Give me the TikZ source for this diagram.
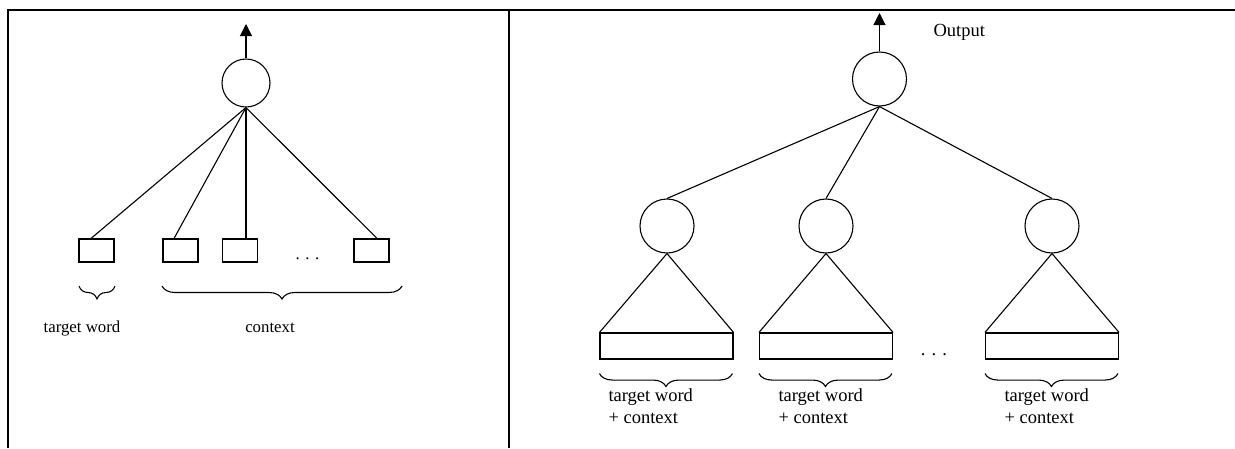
\documentclass[tikz,border=0pt]{standalone}
\usepackage{fontspec}
\setmainfont{Liberation Serif}
\usetikzlibrary{arrows.meta,decorations.pathreplacing}
\begin{document}
\begin{tikzpicture}[x=1pt,y=-1pt,line width=1.1pt,
  unit/.style={circle,draw,inner sep=0pt},
  smallunit/.style={unit,minimum size=48pt},
  bigunit/.style={unit,minimum size=54pt},
  wordbox/.style={draw,rectangle,inner sep=0pt,minimum width=35pt,minimum height=23pt},
  seqbox/.style={draw,rectangle,inner sep=0pt,minimum width=133pt,minimum height=26pt},
  frameline/.style={line width=2.5pt},
  outarrow/.style={-{Triangle[width=12pt,length=12pt]}},
  brc/.style={decorate,decoration={brace,mirror,amplitude=13pt}},
  lbl/.style={font=\fontsize{16.8}{20}\selectfont,inner sep=0pt},
  rlbl/.style={font=\fontsize{18.5}{21.5}\selectfont,inner sep=0pt,align=left}]

\useasboundingbox (0,0) rectangle (1235,448);
\draw[frameline] (8,448) -- (8,10) -- (1235,10);
\draw[frameline] (509,10) -- (509,448);

% left panel
\node[smallunit] (L) at (246,83) {};
\coordinate (Lout) at (246,24);
\draw[outarrow] (L.north) -- (Lout);
\node[wordbox] (b1) at (96.5,250.5) {};
\node[wordbox] (b2) at (180.5,250.5) {};
\node[wordbox] (b3) at (240,250.5) {};
\node[wordbox] (b4) at (371.5,250.5) {};
\draw (L.south) -- ([xshift=-5.5pt]b1.north);
\draw (L.south) -- ([xshift=-6.5pt]b2.north);
\draw (L.south) -- ([xshift=6pt]b3.north);
\draw (L.south) -- ([xshift=5.5pt]b4.north);
\node[lbl,anchor=base] (Ldots) at (307.5,259) {. . .};
\draw[brc] (79,286) -- (115,286);
\draw[brc] (162,286) -- (402,286);
\node[lbl,anchor=base] (tw) at (82,332) {target word};
\node[lbl,anchor=base] (ctx) at (270,332) {context};

% right panel
\node[bigunit] (R) at (879.5,79) {};
\coordinate (Rout) at (879.5,13);
\draw[outarrow] (R.north) -- (Rout);
\node[rlbl,anchor=base west] (outlbl) at (933,36) {Output};
\node[bigunit] (S1) at (667,226) {};
\node[bigunit] (S2) at (826,226) {};
\node[bigunit] (S3) at (1052,226) {};
\draw (R.south) -- (S1.north);
\draw (R.south) -- (S2.north);
\draw (R.south) -- (S3.north);
\node[seqbox] (B1) at (666.5,346) {};
\node[seqbox] (B2) at (826,346) {};
\node[seqbox] (B3) at (1052,346) {};
\draw (B1.north west) -- (S1.south) -- (B1.north east);
\draw (B2.north west) -- (S2.south) -- (B2.north east);
\draw (B3.north west) -- (S3.south) -- (B3.north east);
\node[rlbl,anchor=base] (Rdots) at (934,355) {. . .};
\draw[brc] (B1.south west) ++(0,14) -- ++(133,0);
\draw[brc] (B2.south west) ++(0,14) -- ++(133,0);
\draw[brc] (B3.south west) ++(0,14) -- ++(133,0);
\node[rlbl,anchor=base west] (t1) at (608,423) {target word\\+ context};
\node[rlbl,anchor=base west] (t2) at (778,423) {target word\\+ context};
\node[rlbl,anchor=base west] (t3) at (1004,423) {target word\\+ context};
\end{tikzpicture}
\end{document}
